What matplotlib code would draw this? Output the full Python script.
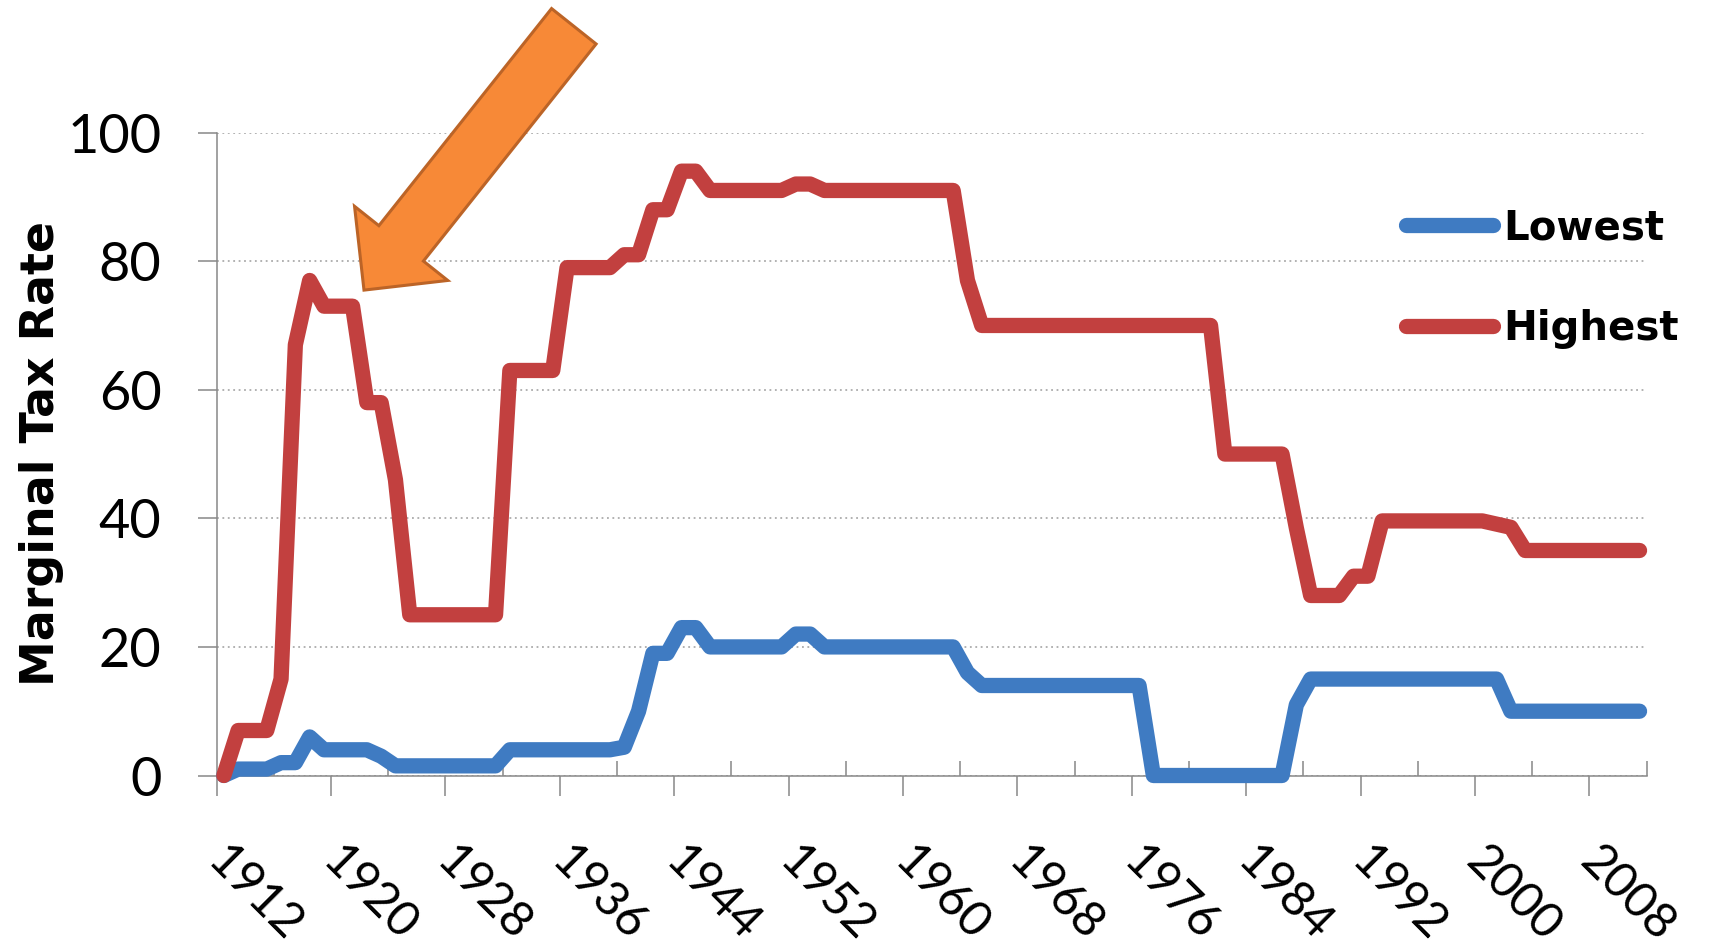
import numpy as np
import matplotlib
matplotlib.use("Agg")
import matplotlib.pyplot as plt
from matplotlib.patches import FancyArrow
from matplotlib.transforms import ScaledTranslation, IdentityTransform
from matplotlib.font_manager import FontProperties

# US federal income tax: lowest and highest marginal rates (%), 1912-2011
years = list(range(1912, 2012))

lowest = [
    0, 1, 1, 1, 2, 2, 6, 4, 4, 4,                       # 1912-1921
    4, 3, 1.5, 1.5, 1.5, 1.5, 1.5, 1.5, 1.5, 1.5,       # 1922-1931
    4, 4, 4, 4, 4, 4, 4, 4, 4.4, 10,                    # 1932-1941
    19, 19, 23, 23, 20, 20, 20, 20, 20, 20,             # 1942-1951
    22, 22, 20, 20, 20, 20, 20, 20, 20, 20,             # 1952-1961
    20, 20, 16, 14, 14, 14, 14, 14, 14, 14,             # 1962-1971
    14, 14, 14, 14, 14, 0, 0, 0, 0, 0,                  # 1972-1981
    0, 0, 0, 0, 0, 11, 15, 15, 15, 15,                  # 1982-1991
    15, 15, 15, 15, 15, 15, 15, 15, 15, 15,             # 1992-2001
    10, 10, 10, 10, 10, 10, 10, 10, 10, 10,             # 2002-2011
]

highest = [
    0, 7, 7, 7, 15, 67, 77, 73, 73, 73,                 # 1912-1921
    58, 58, 46, 25, 25, 25, 25, 25, 25, 25,             # 1922-1931
    63, 63, 63, 63, 79, 79, 79, 79, 81, 81,             # 1932-1941
    88, 88, 94, 94, 91, 91, 91, 91, 91, 91,             # 1942-1951
    92, 92, 91, 91, 91, 91, 91, 91, 91, 91,             # 1952-1961
    91, 91, 77, 70, 70, 70, 70, 70, 70, 70,             # 1962-1971
    70, 70, 70, 70, 70, 70, 70, 70, 70, 70,             # 1972-1981
    50, 50, 50, 50, 50, 38.5, 28, 28, 28, 31,           # 1982-1991
    31, 39.6, 39.6, 39.6, 39.6, 39.6, 39.6, 39.6, 39.6, 39.1,  # 1992-2001
    38.6, 35, 35, 35, 35, 35, 35, 35, 35, 35,           # 2002-2011
]

series_names = ["Lowest", "Highest"]
series_colors = ["#3F7BC2", "#C2403F"]
label_years = list(range(1912, 2012, 8))
y_ticks = [0, 20, 40, 60, 80, 100]
y_title = "Marginal Tax Rate"
arrow_tip = (1921.8, 75.5)   # year, rate the callout arrow points at

plt.rcParams["font.family"] = ["Lato", "DejaVu Sans"]

W, H, DPI = 1715, 950, 100
fig = plt.figure(figsize=(W / DPI, H / DPI), dpi=DPI)
fig.patch.set_facecolor("white")
ax = fig.add_axes([216.7 / W, 174.5 / H, 1430 / W, 642.9 / H])

x = np.arange(len(years))
line_kw = dict(lw=11, solid_capstyle="round", solid_joinstyle="round",
               clip_on=False, zorder=3)
handles = []
for vals, name, col in zip([lowest, highest], series_names, series_colors):
    (ln,) = ax.plot(x, vals, color=col, label=name, **line_kw)
    handles.append(ln)

ax.set_xlim(-0.5, len(years) - 0.5)
ax.set_ylim(0, 100)

axis_grey = "#888888"
for side in ("top", "right"):
    ax.spines[side].set_visible(False)
for side in ("left", "bottom"):
    ax.spines[side].set_color(axis_grey)
    ax.spines[side].set_linewidth(1.1)

# y axis
ax.set_yticks(y_ticks)
ax.set_yticklabels([str(v) for v in y_ticks])
ax.tick_params(axis="y", direction="out", length=13.7, width=1.1,
               color=axis_grey, labelsize=39, pad=26)
ax.yaxis.grid(True, linestyle=(0, (1, 2)), color="#ABABAB", lw=1.3)
ax.set_axisbelow(True)

# x axis: tick marks on category boundaries, labels on the categories
first = years[0]
major_pos = [years.index(y) - 0.5 for y in label_years]
minor_pos = [years.index(y) + 3.5 for y in label_years]
ax.set_xticks(major_pos)
ax.set_xticklabels([str(y) for y in label_years])
ax.set_xticks(minor_pos, minor=True)
ax.tick_params(axis="x", which="major", direction="out", length=14.4,
               width=1.1, color=axis_grey, labelsize=35, pad=31)
ax.tick_params(axis="x", which="minor", direction="in", length=10.8,
               width=1.1, color=axis_grey)
half_cat = 1430 / len(years) / 2 / DPI
shift = ScaledTranslation(half_cat + 0.07, 0, fig.dpi_scale_trans)
for lab in ax.get_xticklabels():
    lab.set_rotation(-45)
    lab.set_ha("left")
    lab.set_va("top")
    lab.set_rotation_mode("anchor")
    lab.set_transform(lab.get_transform() + shift)

ax.set_ylabel(y_title, fontsize=33, fontweight="bold",
              family="DejaVu Sans", va="center")
ax.yaxis.set_label_coords(-0.1226, 0.5016)

leg = ax.legend(handles, series_names, loc="upper left",
                bbox_to_anchor=(0.820, 0.781), bbox_transform=fig.transFigure,
                frameon=False,
                prop=FontProperties(family="DejaVu Sans", weight="bold", size=29),
                handlelength=2.15, handletextpad=0.25, labelspacing=1.52,
                borderpad=0, borderaxespad=0)

# orange callout arrow
tip = ax.transData.transform((arrow_tip[0] - first, arrow_tip[1]))
dx, dy = -209.85, -263.85
arrow = FancyArrow(tip[0] - dx, tip[1] - dy, dx, dy, width=56.9,
                   head_width=119.1, head_length=59.7,
                   length_includes_head=True, transform=IdentityTransform(),
                   facecolor="#F78937", edgecolor="#BC6427", lw=2.2,
                   zorder=10)
fig.add_artist(arrow)

fig.savefig("out.png", dpi=DPI, facecolor="white")
